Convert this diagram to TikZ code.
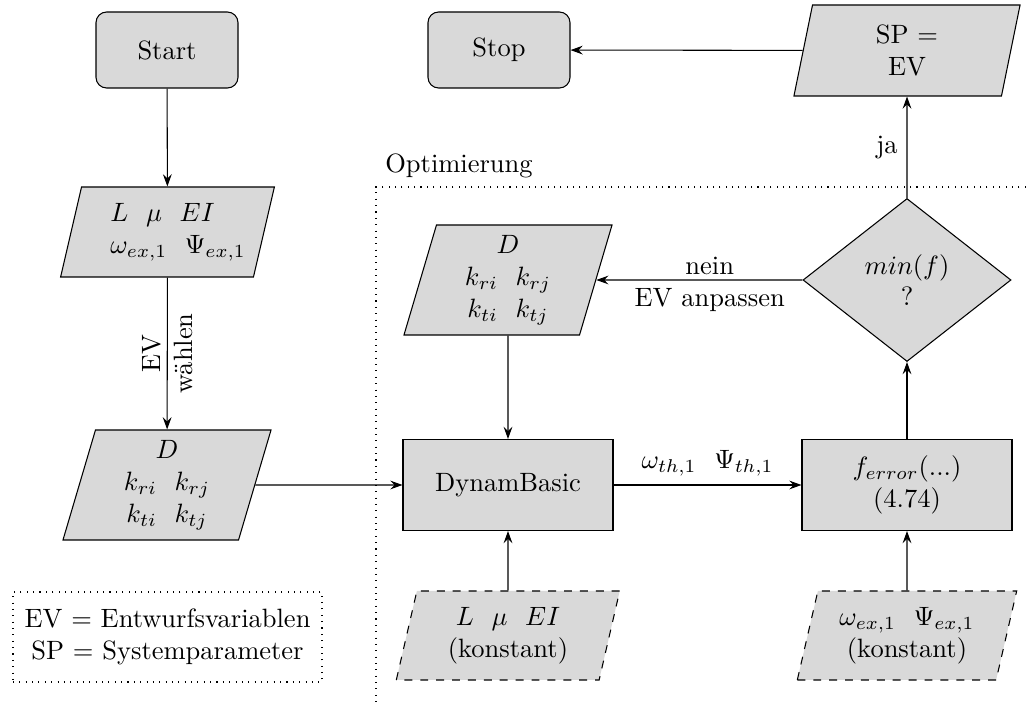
\documentclass[tikz,border=0pt]{standalone}
\usetikzlibrary{shapes.geometric, arrows.meta}
% one drawing unit, used for node sizes
\newcommand\PXU{0.3774pt}

\begin{document}
\begin{tikzpicture}[x=0.3774pt, y=-0.3774pt,
  >={Stealth[length=4.6pt,width=3.3pt,inset=1.6pt]},
  box/.style={draw, fill=black!15, align=center, inner sep=0pt},
  term/.style={box, rounded corners=4pt, minimum width=142*\PXU, minimum height=76*\PXU},
  proc/.style={box, minimum width=210*\PXU, minimum height=91*\PXU},
  para/.style={box, trapezium, trapezium left angle=70, trapezium right angle=110,
    trapezium stretches body=true},
  parasize/.style 2 args={minimum width={(#1+0.364*#2)*\PXU}, minimum height={#2*\PXU}},
  const/.style={para, dashed},
  decide/.style={box, diamond, minimum width=208*\PXU, minimum height=163*\PXU},
  legendbox/.style={draw, dotted, align=center, minimum width=309*\PXU, minimum height=90*\PXU},
]
\useasboundingbox (0,0) rectangle (1027,702);

% main column
\node[term] (start) at (167,50) {Start};
\node[para, parasize={181}{90}, align=left] (in1) at (167.5,232)
  {\hspace*{8pt}$L~~\mu~~EI$\\\hspace*{8pt}$\omega_{ex,1}~~\Psi_{ex,1}$};
\node[para, parasize={168}{110}] (ev1) at (167,485)
  {$D$\\$k_{ri}~~k_{rj}$\\$k_{ti}~~k_{tj}$};
\node[legendbox] (legend) at (167.5,637)
  {EV $=$ Entwurfsvariablen\\SP $=$ Systemparameter};

% result
\node[term] (stop) at (499,50) {Stop};
\node[para, parasize={193}{91}] (sp) at (907,50.5) {SP =\\EV};

% optimisation loop
\coordinate (optcorner) at (376,187);
\coordinate (optright) at (1032,187);
\coordinate (optbottom) at (376,707);
\draw[dotted] (optright) -- (optcorner) -- (optbottom);
\node[anchor=south west] (optlabel) at (optcorner) {Optimierung};

\node[para, parasize={168}{110}] (ev2) at (508,280)
  {$D$\\$k_{ri}~~k_{rj}$\\$k_{ti}~~k_{tj}$};
\node[proc] (dyn) at (508,485) {DynamBasic};
\node[proc] (err) at (907,485) {$f_{error}(...)$\\(4.74)};
\node[decide] (dec) at (907,280) {$min(f)$\\?};
\node[const, parasize={191}{89}] (c1) at (508,635.5) {$L~~\mu~~EI$\\(konstant)};
\node[const, parasize={187}{89}] (c2) at (907,635.5) {$\omega_{ex,1}~~\Psi_{ex,1}$\\(konstant)};

% connectors
\draw[->] (start) -- (in1);
\draw[->] (in1) -- node[rotate=90, align=center] {EV\\wählen} (ev1);
\draw[->] (ev1) -- (dyn);
\draw[->] (ev2) -- (dyn);
\draw[->] (c1) -- (dyn);
\draw[->] (dyn) -- node[above] {$\omega_{th,1}~~\Psi_{th,1}$} (err);
\draw[->] (c2) -- (err);
\draw[->] (err) -- (dec);
\draw[->] (dec) -- node[left] {ja} (sp);
\draw[->] (dec) -- node[pos=0.45, align=center, yshift=-1.7pt] {nein\\EV anpassen} (ev2);
\draw[->] (sp) -- (stop);
\end{tikzpicture}
\end{document}
